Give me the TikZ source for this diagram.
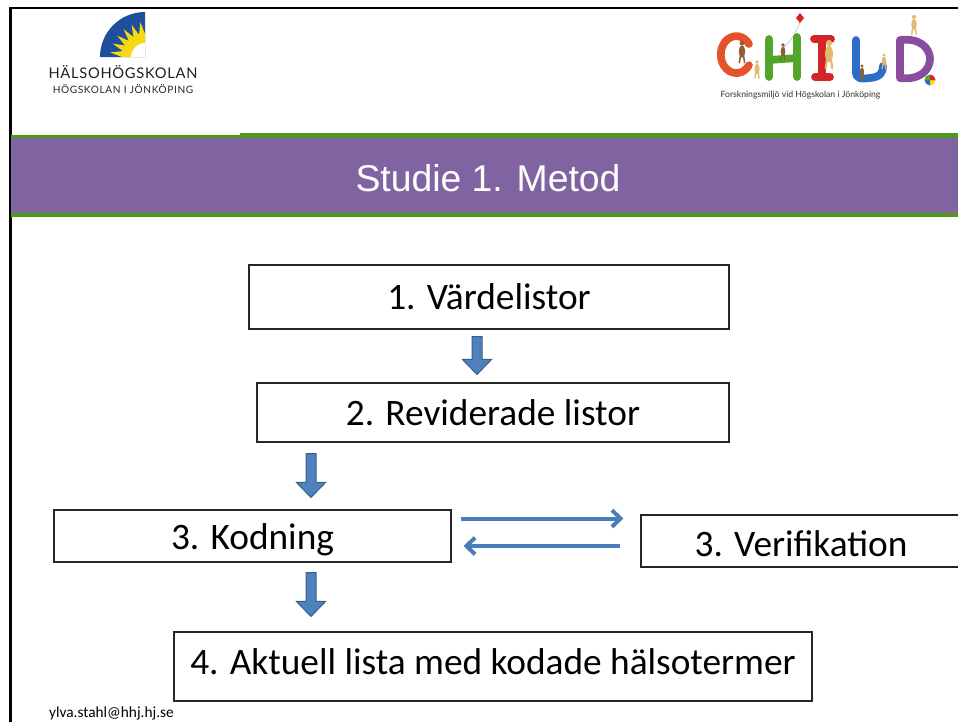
\documentclass[tikz,border=0pt]{standalone}
\usepackage{fontspec}
\setmainfont{Carlito}
\newfontfamily\titlefont{Liberation Sans}
\newfontfamily\logofont{Lato}
\newfontfamily\logofontA[LetterSpace=5]{Lato}
\newfontfamily\logofontB[LetterSpace=6]{Lato}
\usetikzlibrary{arrows.meta,calc}
\definecolor{bandpurple}{HTML}{8064A2}
\definecolor{bandgreen}{HTML}{4F9A1D}
\definecolor{arrowfill}{HTML}{4F81BD}
\definecolor{arrowline}{HTML}{385D8A}
\definecolor{linkblue}{HTML}{4A7EBB}
\definecolor{sunblue}{HTML}{1F4F9C}
\definecolor{sunyellow}{HTML}{F6D912}
\definecolor{cC}{HTML}{E5532D}
\definecolor{cH}{HTML}{52A52B}
\definecolor{cI}{HTML}{D3262B}
\definecolor{cL}{HTML}{2E6CC9}
\definecolor{cD}{HTML}{8A4C9F}
\definecolor{tanfig}{HTML}{E4B96C}
\definecolor{brownfig}{HTML}{8E5E35}
\tikzset{
  box/.style={draw=black!85, line width=0.8pt, fill=white, inner sep=0pt,
    font=\fontsize{28}{32}\selectfont, text=black},
  barrow/.style={fill=arrowfill, draw=arrowline, line width=0.75pt},
  link/.style={draw=linkblue, line width=3pt, -{Straight Barb[length=6.5pt,width=12.5pt]}},
  letter/.style={line width=5.8pt, line cap=round, line join=round},
}
\newcommand\shifttext[2]{\raisebox{#1}[\height][\depth]{#2}}
\newcommand\blockdown[2]{%
  \filldraw[barrow] let \p1=(#1), \p2=(#2) in
    (\x1-3.75pt,\y1) -- (\x1+3.75pt,\y1) -- (\x1+3.75pt,\y2+11.25pt)
    -- (\x1+10.9pt,\y2+11.25pt) -- (\x1,\y2) -- (\x1-10.9pt,\y2+11.25pt)
    -- (\x1-3.75pt,\y2+11.25pt) -- cycle;}
\newcommand\kidfig[4]{% x y scale colour
  \fill[#4] (#1,#2) circle[radius=2.8*#3];
  \fill[#4] (#1,#2+10*#3) ellipse[x radius=3.6*#3, y radius=7.5*#3];
  \draw[#4, line width=1.4pt*#3, line cap=round] (#1-2*#3,#2+16*#3) -- (#1-3*#3,#2+23*#3) (#1+2*#3,#2+16*#3) -- (#1+3*#3,#2+23*#3);
}
\begin{document}
\begin{tikzpicture}[x=0.75pt,y=-0.75pt]
\useasboundingbox (0,0) rectangle (958,722);
\fill[white] (0,0) rectangle (958,722);

% frame
\draw[black, line width=1.9pt] (10.5,722) -- (10.5,8) -- (958,8);

% title band
\fill[bandgreen] (11,134.5) rectangle (240,138);
\fill[bandgreen] (240,133) rectangle (958,138);
\fill[bandpurple] (11,137.5) rectangle (958,213);
\fill[bandgreen] (11,213) rectangle (958,217);
\node[text=white, font=\titlefont\fontsize{28}{32}\selectfont] (title) at (488,178) {Studie 1. Metod};

% Halsohogskolan logo
\fill[sunblue] (145,57) -- (100,57) arc[start angle=180, end angle=270, radius=45] -- cycle;
\fill[sunyellow] (145,57)
  \foreach \i in {0,...,6} {
    -- ({145+23*cos(180+\i*15)},{57+23*sin(180+\i*15)})
    -- ({145+35*cos(187.5+\i*15)},{57+35*sin(187.5+\i*15)})
  } -- ({145+23*cos(270)},{57+23*sin(270)}) -- cycle;
\fill[white] (145,57) -- (131,57) arc[start angle=180, end angle=270, radius=14] -- cycle;
\node[font=\logofontA\fontsize{11}{12}\selectfont, text=black!88] (hhs) at (123,72) {HÄLSOHÖGSKOLAN};
\node[font=\logofontB\fontsize{7.6}{9}\selectfont, text=black!85] (hj) at (123,89) {HÖGSKOLAN I JÖNKÖPING};

% CHILD logo
\draw[letter, cC] (749,44) arc[start angle=-35, end angle=-325, x radius=15.5, y radius=18.5];
\draw[letter, cH] (769,39) -- (769,77) (797,37) -- (797,77) (769,60) -- (797,58);
\draw[letter, cI] (822,40) -- (822,77) (814,39) -- (831,39) (815,77) -- (830,77);
\draw[letter, cL] (856,40) -- (856,72) .. controls (856,79) and (861,79) .. (870,78) .. controls (880,77) and (883,73) .. (883,66);
\draw[letter, cD] (900,40) -- (900,78) (900,40) .. controls (940,35) and (940,83) .. (900,78);
\draw[black!35, line width=0.3pt] (800,22) .. controls (795,35) and (790,42) .. (781,50);
\fill[cI] (800,13) -- (804,18) -- (800,23) -- (796,18) -- cycle;
\kidfig{742}{43}{0.85}{brownfig}
\kidfig{757}{62}{0.7}{tanfig}
\kidfig{783}{45}{0.65}{brownfig}
\kidfig{829}{43}{1.1}{tanfig}
\kidfig{862}{66}{0.6}{brownfig}
\kidfig{884}{55}{0.6}{tanfig}
\kidfig{914}{17}{0.75}{tanfig}
\fill[yellow!80!orange] (930,80) -- ++(0:5.5) arc[start angle=0, end angle=90, radius=5.5] -- cycle;
\fill[cL] (930,80) -- ++(90:5.5) arc[start angle=90, end angle=180, radius=5.5] -- cycle;
\fill[cH] (930,80) -- ++(180:5.5) arc[start angle=180, end angle=270, radius=5.5] -- cycle;
\fill[cI] (930,80) -- ++(270:5.5) arc[start angle=270, end angle=360, radius=5.5] -- cycle;
\node[font=\logofont\fontsize{6.5}{8}\selectfont, text=black!80, inner sep=0pt] (child) at (800.5,95) {Forskningsmiljö vid Högskolan i Jönköping};

% boxes
\node[box, minimum width=360pt, minimum height=48pt] (b1) at (489,297) {1. Värdelistor};
\node[box, minimum width=354pt, minimum height=44.25pt] (b2) at (493,412.5) {2. Reviderade listor};
\node[box, minimum width=297.75pt, minimum height=39pt] (b3) at (252.5,536) {\shifttext{-3pt}{3. Kodning}};
\node[box, minimum width=240pt, minimum height=39pt] (ver) at (801,541) {\shifttext{-2pt}{3. Verifikation}};
\node[box, minimum width=478.5pt, minimum height=51.75pt] (b4) at (493,666.5) {\shifttext{3.5pt}{4. Aktuell lista med kodade hälsotermer}};

% block arrows
\path ($(b1.south)+(-12,7)$) coordinate (a1s) ($(b2.north)+(-16,-8)$) coordinate (a1e);
\path ($(b2.south)+(-182,11)$) coordinate (a2s) ($(b3.north)+(58.5,-12)$) coordinate (a2e);
\path ($(b3.south)+(58.5,10)$) coordinate (a3s) ($(b4.north)+(-182,-15)$) coordinate (a3e);
\blockdown{a1s}{a1e}
\blockdown{a2s}{a2e}
\blockdown{a3s}{a3e}

% verification links
\draw[link] ($(b3.east)+(9,-17.5)$) coordinate (r1) -- ($(ver.west)+(-17,-22.5)$) coordinate (r2);
\draw[link] ($(ver.west)+(-20,5)$) coordinate (l1) -- ($(b3.east)+(12,10)$) coordinate (l2);

% footer
\node[font=\fontsize{11.5}{13}\selectfont, text=black, inner sep=0pt] (mail) at (111.5,713) {ylva.stahl@hhj.hj.se};
\end{tikzpicture}
\end{document}
